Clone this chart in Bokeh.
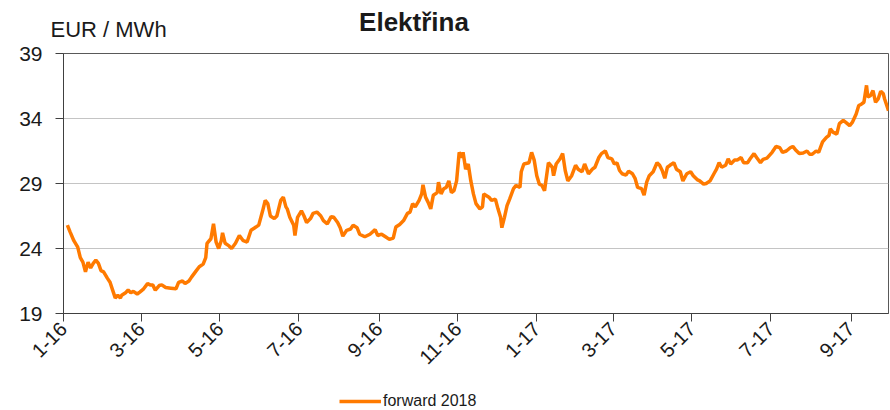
import math
import pandas as pd
from bokeh.plotting import figure
from bokeh.layouts import column
from bokeh.models import (ColumnDataSource, Range1d, FixedTicker, CustomJSTickFormatter,
                          Legend, LegendItem)
from bokeh.core.properties import value
from bokeh.embed import file_html
from bokeh.resources import INLINE

# ---- data -------------------------------------------------------------
chart_title = "Elektřina"
unit_label = "EUR / MWh"
series_name = "forward 2018"
base_date = "2016-01-01"           # day offsets below are counted from this date
end_day = 638                      # last trading day shown (offset)

days = [3, 5, 8, 11, 13, 15, 17, 19, 21, 23, 25, 27, 29, 31, 34, 36, 38, 40, 42, 44,
        45, 48, 50, 52, 54, 57, 59, 62, 65, 67, 69, 71, 74, 76, 79, 83, 87, 89, 92, 94,
        97, 99, 102, 105, 108, 110, 111, 114, 116, 118, 120, 122, 123, 125, 128, 130, 133, 136, 139, 142,
        145, 148, 151, 154, 156, 158, 160, 163, 165, 168, 170, 172, 173, 175, 178, 179, 181, 184, 186, 188,
        191, 193, 196, 199, 201, 204, 207, 209, 212, 214, 216, 219, 222, 224, 227, 229, 233, 237, 241, 243,
        246, 249, 252, 255, 257, 260, 263, 266, 268, 270, 272, 275, 277, 278, 280, 282, 284, 286, 289, 290,
        292, 294, 296, 298, 300, 302, 304, 306, 308, 309, 311, 313, 315, 317, 319, 322, 324, 325, 329, 331,
        334, 336, 338, 339, 341, 343, 345, 348, 350, 353, 354, 356, 360, 362, 364, 366, 368, 370, 372, 375,
        378, 379, 381, 384, 386, 388, 390, 393, 396, 398, 401, 403, 406, 409, 411, 414, 416, 419, 421, 424,
        426, 428, 430, 432, 435, 437, 440, 442, 444, 447, 449, 451, 453, 456, 459, 461, 463, 465, 467, 469,
        472, 474, 477, 479, 482, 485, 487, 490, 492, 495, 497, 500, 503, 505, 507, 509, 512, 514, 516, 519,
        521, 524, 526, 529, 531, 534, 536, 539, 541, 544, 548, 551, 554, 556, 559, 562, 564, 566, 569, 572,
        575, 577, 579, 582, 584, 587, 590, 592, 593, 595, 598, 600, 603, 605, 608, 610, 613, 615, 617, 619,
        621, 622, 624, 626, 628, 630, 632, 634, 635, 637, 638]

price = [25.8, 25.3, 24.6, 24.1, 23.3, 22.95, 22.2, 22.95, 22.5, 22.85, 23.1, 22.85, 22.3, 22.2, 21.7, 21.4, 20.8, 20.2, 20.4, 20.2,
         20.4, 20.6, 20.8, 20.6, 20.7, 20.5, 20.65, 20.9, 21.3, 21.2, 21.2, 20.8, 21.15, 21.2, 21.0, 20.95, 20.9, 21.4, 21.5, 21.3,
         21.5, 21.8, 22.2, 22.6, 22.8, 23.3, 24.4, 24.75, 25.9, 24.5, 24.0, 24.6, 25.2, 24.4, 24.2, 24.0, 24.4, 25.0, 24.6, 24.5,
         25.4, 25.6, 25.8, 26.9, 27.7, 27.45, 26.5, 26.3, 26.5, 27.7, 27.95, 27.2, 27.05, 26.4, 25.8, 25.0, 26.4, 26.9, 26.5, 26.0,
         26.3, 26.7, 26.8, 26.5, 26.15, 25.9, 26.45, 26.4, 26.0, 25.6, 24.95, 25.4, 25.5, 25.8, 25.6, 25.1, 24.9, 25.1, 25.45, 25.0,
         25.1, 24.9, 24.7, 24.8, 25.65, 25.85, 26.15, 26.7, 26.8, 27.45, 27.2, 27.7, 28.2, 28.9, 27.95, 27.55, 27.05, 28.1, 28.3, 29.1,
         28.2, 28.6, 28.7, 29.2, 28.3, 28.45, 29.2, 31.4, 31.0, 31.4, 30.1, 30.5, 29.2, 28.2, 27.45, 27.05, 27.2, 28.2, 27.95, 27.7,
         27.8, 27.05, 26.4, 25.6, 26.4, 27.3, 27.8, 28.6, 28.85, 28.7, 29.9, 30.5, 30.6, 31.4, 30.8, 29.6, 28.95, 28.85, 28.45, 30.6,
         30.25, 29.6, 30.5, 30.9, 31.3, 30.0, 29.2, 29.6, 30.4, 30.1, 29.9, 30.5, 29.75, 30.1, 30.25, 31.0, 31.3, 31.5, 31.0, 30.9,
         30.5, 30.6, 30.0, 29.75, 29.65, 29.95, 29.75, 29.4, 28.7, 28.6, 28.1, 29.1, 29.6, 29.9, 30.6, 30.4, 30.0, 29.4, 30.25, 30.4,
         30.6, 30.1, 29.9, 29.2, 29.75, 29.9, 29.6, 29.3, 29.2, 28.95, 29.0, 29.2, 29.75, 30.1, 30.6, 30.25, 30.4, 30.9, 30.5, 30.8,
         30.8, 31.0, 30.6, 30.6, 30.9, 31.3, 31.0, 30.6, 30.85, 30.95, 31.4, 31.85, 31.75, 31.4, 31.5, 31.75, 31.85, 31.6, 31.3, 31.35,
         31.5, 31.25, 31.25, 31.5, 31.4, 32.2, 32.55, 32.7, 33.2, 32.95, 32.8, 33.6, 33.85, 33.7, 33.45, 33.7, 34.35, 35.0, 35.1, 35.25,
         36.55, 35.65, 35.75, 36.15, 35.25, 35.5, 36.1, 35.9, 35.5, 34.9, 34.6]

y_ticks = [19, 24, 29, 34, 39]
tick_months = pd.date_range("2016-01-01", "2017-09-01", freq="2MS")

# ---- styling constants ------------------------------------------------
FONT = "Liberation Sans"
ORANGE = "#FF7A00"
DARK = "#1a1a1a"
W = 890
HEADER_H = 40
FOOTER_H = 30
MAIN_H = 410 - HEADER_H - FOOTER_H
FRAME_TOP = 53 - HEADER_H      # frame top at page y = 53


def blank(height):
    f = figure(width=W, height=height, x_range=Range1d(0, W), y_range=Range1d(0, height),
               title=None, output_backend="svg", toolbar_location=None,
               x_axis_location=None, y_axis_location=None,
               min_border=0, outline_line_color=None)
    f.grid.grid_line_color = None
    f.frame_align = False
    return f


# ---- header (title row) -----------------------------------------------
hdr = blank(HEADER_H)
hdr.text(x=[413.5], y=[HEADER_H - 21], text=[chart_title], text_align="center",
         text_baseline="alphabetic", text_font=value(FONT), text_font_style="bold",
         text_font_size="26px", text_color=DARK)
hdr.text(x=[50], y=[HEADER_H - 29], text=[unit_label], text_align="left",
         text_baseline="alphabetic", text_font=value(FONT),
         text_font_size="22px", text_color=DARK)

# ---- main chart -------------------------------------------------------
base = pd.Timestamp(base_date)
dates = base + pd.to_timedelta(days, unit="D")
src = ColumnDataSource(dict(date=dates, price=price))

def ms(ts):
    return ts.value / 1e6

x_start = ms(base)
x_end = ms(base + pd.Timedelta(days=end_day))

p = figure(width=W, height=MAIN_H, x_axis_type="datetime",
           x_range=Range1d(x_start, x_end), y_range=Range1d(19, 39),
           title=None, output_backend="svg", toolbar_location=None,
           min_border_left=63, min_border_right=2, min_border_top=FRAME_TOP,
           min_border_bottom=MAIN_H - FRAME_TOP - 260)
p.frame_align = False

r = p.line("date", "price", source=src, line_color=ORANGE, line_width=3.5)

p.background_fill_color = "white"
p.border_fill_color = "white"
p.outline_line_color = "#595959"
p.outline_line_width = 1

p.xgrid.grid_line_color = None
p.ygrid.grid_line_color = "#c4c4c4"
p.ygrid.grid_line_width = 1

p.yaxis.ticker = FixedTicker(ticks=y_ticks)
p.xaxis.ticker = FixedTicker(ticks=[ms(t) for t in tick_months])
p.xaxis.formatter = CustomJSTickFormatter(code="""
    const d = new Date(tick);
    return (d.getUTCMonth() + 1) + "-" + String(d.getUTCFullYear()).slice(2);
""")

for ax in (p.xaxis[0], p.yaxis[0]):
    ax.axis_line_color = "#404040"
    ax.axis_line_width = 1
    ax.major_tick_line_color = "#404040"
    ax.major_tick_out = 8
    ax.major_tick_in = 0
    ax.minor_tick_line_color = None
    ax.major_label_text_color = DARK
    ax.major_label_text_font = FONT

p.yaxis.major_label_text_font_size = "21px"
p.yaxis.major_label_standoff = 13
p.xaxis.major_label_text_font_size = "20px"
p.xaxis.major_label_orientation = math.pi / 4
p.xaxis.major_label_standoff = 4

# ---- footer (legend row) ----------------------------------------------
ftr = blank(FOOTER_H)
key = ftr.line(x=[-20, -10], y=[-20, -20], line_color=ORANGE, line_width=3.5)
legend = Legend(items=[LegendItem(label=series_name, renderers=[key])],
                location=(339, 0), orientation="horizontal",
                padding=0, margin=0, spacing=0, label_standoff=2,
                glyph_width=42, glyph_height=16, label_height=16,
                border_line_color=None, background_fill_alpha=0,
                label_text_font=FONT, label_text_font_size="16px",
                label_text_color=DARK)
ftr.add_layout(legend)

layout = column(hdr, p, ftr, spacing=0)
open("out.html", "w").write(file_html(layout, INLINE))
